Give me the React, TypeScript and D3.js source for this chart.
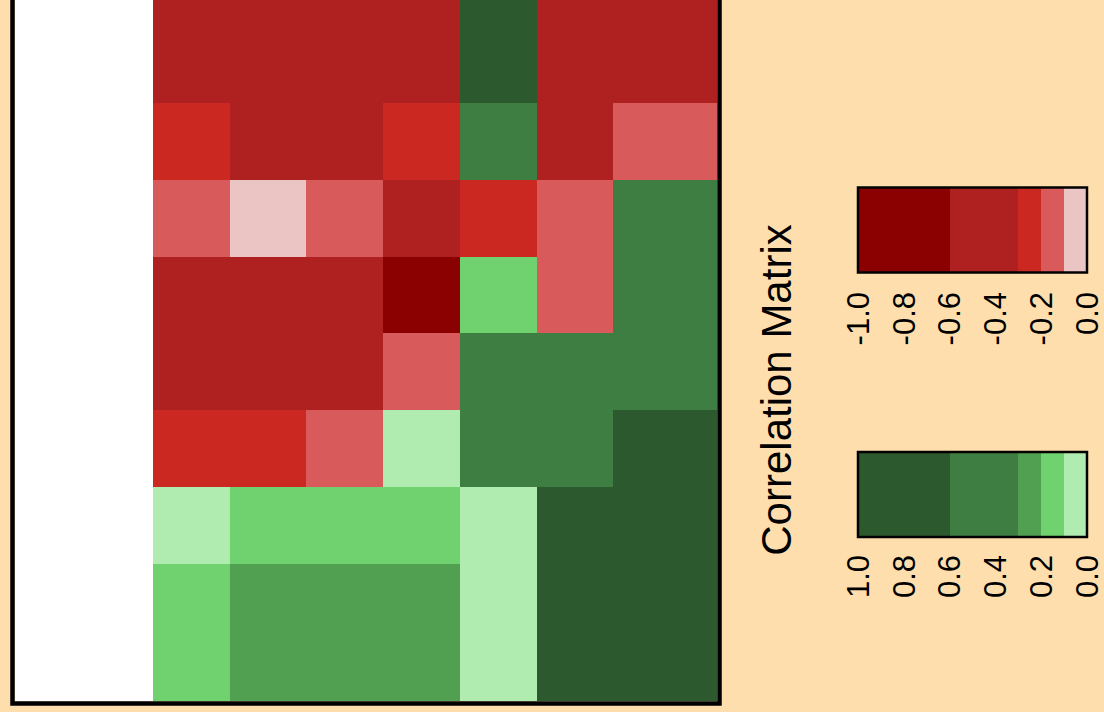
import React from "react";
import * as d3 from "d3";

const rowLabels = ["r1", "r2", "r3", "r4", "r5", "r6", "r7", "r8"];
const colLabels = ["c1", "c2", "c3", "c4", "c5", "c6", "c7"];

const row1 = [-0.52, -0.47, -0.41, -0.55, 0.71, -0.44, -0.5];
const row2 = [-0.27, -0.38, -0.46, -0.24, 0.42, -0.35, -0.16];
const row3 = [-0.13, -0.06, -0.18, -0.43, -0.22, -0.14, 0.37];
const row4 = [-0.49, -0.53, -0.4, -0.68, 0.14, -0.12, 0.48];
const row5 = [-0.45, -0.39, -0.57, -0.17, 0.51, 0.44, 0.39];
const row6 = [-0.28, -0.21, -0.11, 0.07, 0.33, 0.55, 0.66];
const row7 = [0.04, 0.18, 0.12, 0.16, 0.08, 0.73, 0.82];
const row8 = [0.19, 0.26, 0.23, 0.28, 0.03, 0.69, 0.77];
const matrix = [row1, row2, row3, row4, row5, row6, row7, row8];

const thresholds = [-0.6, -0.3, -0.2, -0.1, 0, 0.1, 0.2, 0.3, 0.6];
const palette = [
  "#8B0000", "#AF2020", "#CA2820", "#D85A5A", "#EBC4C4",
  "#B0EBB0", "#6FD26F", "#51A051", "#3F7E43", "#2C5A2E",
];

const redBreaks = [-1, -0.6, -0.3, -0.2, -0.1, 0];
const greenBreaks = [1, 0.6, 0.3, 0.2, 0.1, 0];
const redTicks = ["-1.0", "-0.8", "-0.6", "-0.4", "-0.2", "0.0"];
const greenTicks = ["1.0", "0.8", "0.6", "0.4", "0.2", "0.0"];

const FONT = "'Liberation Sans', Arial, Helvetica, sans-serif";

export default function App() {
  const W = 1104, H = 712;
  const plot = { left: 15, right: 717, top: -12, bottom: 701 };
  const step = 76.7;
  const x = d3.scaleBand<string>().domain(colLabels).range([153, 153 + step * colLabels.length]).padding(0);
  const y = d3.scaleBand<string>().domain(rowLabels).range([26.6, 26.6 + step * rowLabels.length]).padding(0);
  const color = d3.scaleThreshold<number, string>().domain(thresholds).range(palette);

  const cells: any[] = [];
  matrix.forEach((row, ri) => {
    row.forEach((v, ci) => {
      let x0 = Math.round(x(colLabels[ci])!);
      let x1 = Math.round(x(colLabels[ci])! + x.bandwidth());
      let y0 = Math.round(y(rowLabels[ri])!);
      let y1 = Math.round(y(rowLabels[ri])! + y.bandwidth());
      if (ci === colLabels.length - 1) x1 = plot.right;
      if (ri === 0) y0 = plot.top;
      if (ri === rowLabels.length - 1) y1 = plot.bottom;
      cells.push({ key: `${ri}-${ci}`, x0, x1, y0, y1, fill: color(v) });
    });
  });

  const legX0 = 858, legX1 = 1087;
  const redScale = d3.scaleLinear().domain([-1, 0]).range([legX0, legX1]);
  const greenScale = d3.scaleLinear().domain([1, 0]).range([legX0, legX1]);
  const redBar = { top: 187.5, bottom: 272.5 };
  const greenBar = { top: 452, bottom: 537 };

  const legend = (
    breaks: number[],
    scale: d3.ScaleLinear<number, number>,
    bar: { top: number; bottom: number },
    ticks: string[],
    labelTop: number,
    k: string
  ) => (
    <g key={k}>
      {breaks.slice(0, -1).map((b, i) => {
        const a = Math.round(scale(b)), c = Math.round(scale(breaks[i + 1]));
        const mid = (b + breaks[i + 1]) / 2;
        return (
          <rect key={i} x={Math.min(a, c)} y={bar.top} width={Math.abs(c - a)}
            height={bar.bottom - bar.top} fill={color(mid)} shapeRendering="crispEdges" />
        );
      })}
      <rect x={legX0} y={bar.top} width={legX1 - legX0} height={bar.bottom - bar.top}
        fill="none" stroke="#000" strokeWidth={2.5} />
      {ticks.map((t) => {
        const tx = scale(+t);
        return (
          <text key={t} transform={`translate(${tx},${labelTop}) rotate(-90)`}
            textAnchor="end" dy="0.35em" fontFamily={FONT} fontSize={31} fill="#000">
            {t}
          </text>
        );
      })}
    </g>
  );

  return (
    <svg width={W} height={H} style={{ position: "absolute", left: 0, top: 0 }}>
      <rect x={0} y={0} width={W} height={H} fill="#FFDEAD" />
      <defs>
        <clipPath id="plotclip">
          <rect x={plot.left} y={plot.top} width={plot.right - plot.left} height={plot.bottom - plot.top} />
        </clipPath>
      </defs>
      <rect x={plot.left} y={plot.top} width={plot.right - plot.left} height={plot.bottom - plot.top} fill="#FFFFFF" />
      <g clipPath="url(#plotclip)">
        {cells.map((c) => (
          <rect key={c.key} x={c.x0} y={c.y0} width={c.x1 - c.x0} height={c.y1 - c.y0}
            fill={c.fill} shapeRendering="crispEdges" />
        ))}
      </g>
      <rect x={12.5} y={-12} width={707} height={715.5} fill="none" stroke="#000" strokeWidth={4.5} />
      <text transform="translate(791,390) rotate(-90)" textAnchor="middle" fontFamily={FONT}
        fontSize={42} fill="#000">
        Correlation Matrix
      </text>
      {legend(redBreaks, redScale, redBar, redTicks, 292, "red")}
      {legend(greenBreaks, greenScale, greenBar, greenTicks, 555, "green")}
    </svg>
  );
}
